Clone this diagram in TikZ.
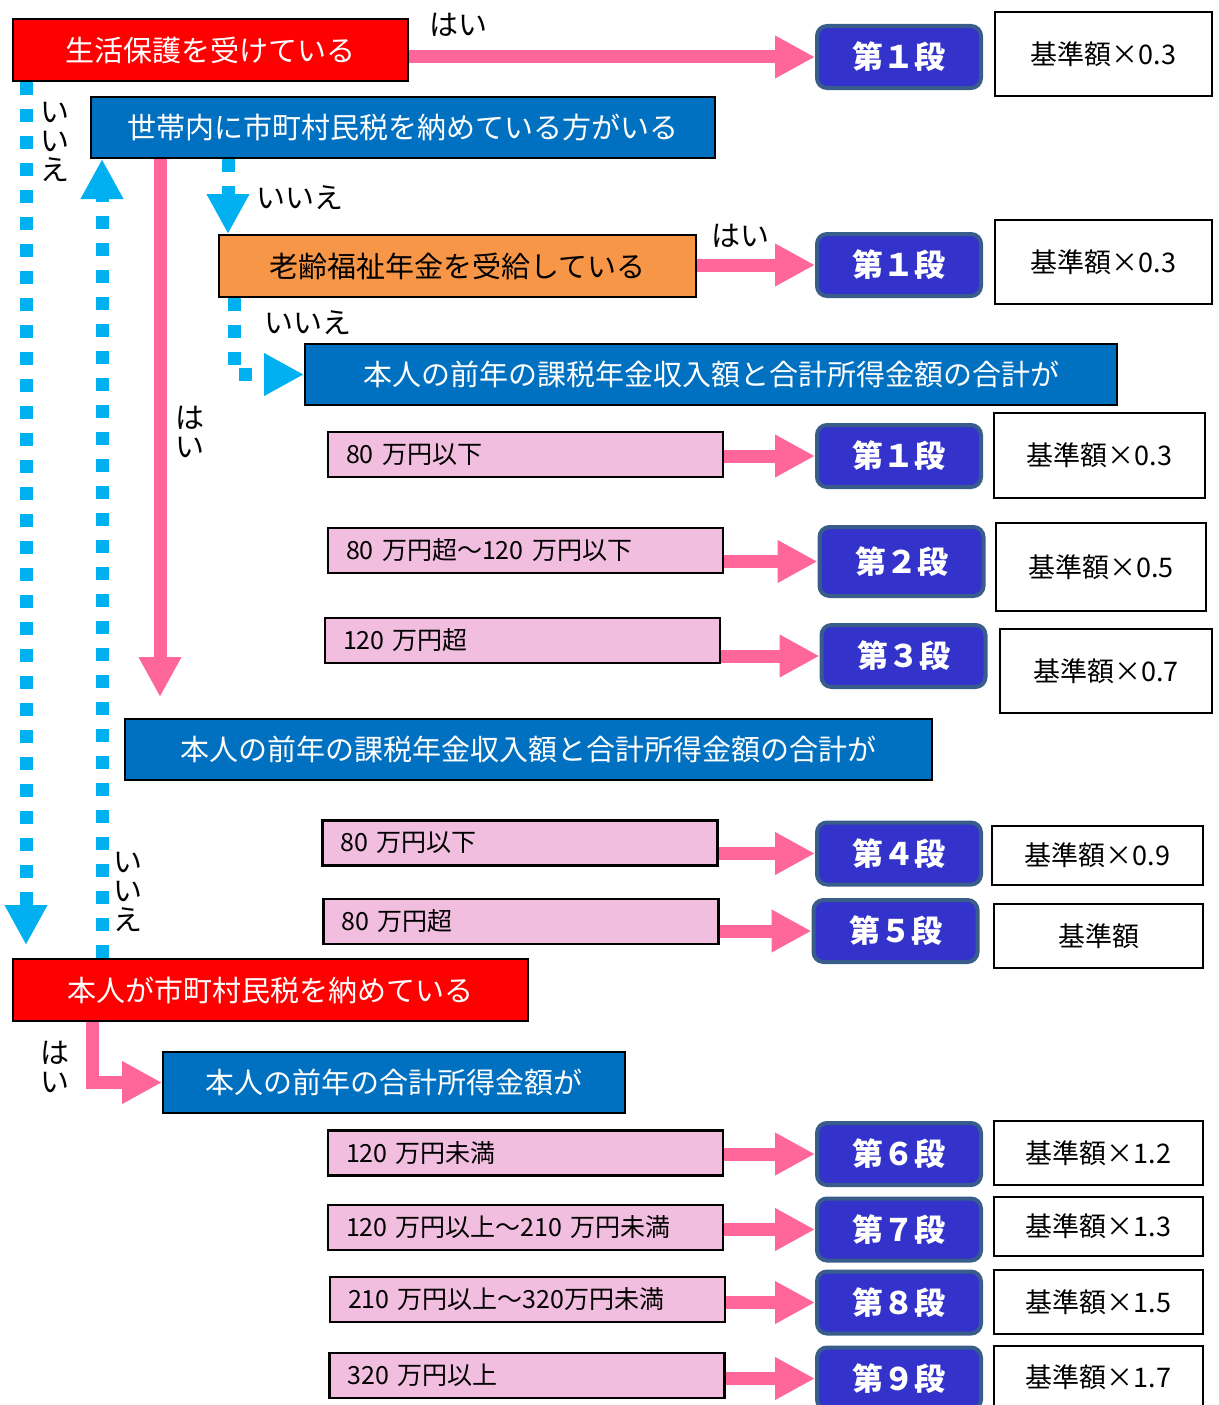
\documentclass[tikz,border=0pt]{standalone}
\usepackage{fontspec}
\setmainfont{Noto Sans CJK JP}
\usetikzlibrary{arrows.meta}
\definecolor{hdrblue}{HTML}{0070C0}
\definecolor{ageorange}{HTML}{F79646}
\definecolor{rangepink}{HTML}{F2BEE0}
\definecolor{stageblue}{HTML}{3333CC}
\definecolor{stageedge}{HTML}{385D8A}
\definecolor{arrowpink}{HTML}{FF6699}
\definecolor{dotcyan}{HTML}{00B0F0}
\begin{document}
\begin{tikzpicture}[x=1pt,y=-1pt,
  header/.style={draw=black,line width=2pt,text=white,inner sep=0pt,font=\fontsize{29}{29}\selectfont},
  redbox/.style={header,fill=red},
  bluebox/.style={header,fill=hdrblue},
  agebox/.style={header,fill=ageorange,text=black},
  rangebox/.style={draw=black,line width=2.5pt,fill=rangepink,minimum height=45pt,text width=359pt,inner xsep=18pt,inner ysep=0pt,align=left,font=\fontsize{25}{25}\selectfont},
  stagebox/.style={draw=stageedge,line width=4pt,fill=stageblue,rounded corners=10pt,text=white,minimum width=164pt,minimum height=62pt,inner sep=0pt,font=\fontsize{31}{31}\selectfont\bfseries},
  ratebox/.style={draw=black,line width=2pt,fill=white,inner sep=0pt,font=\fontsize{27}{27}\selectfont},
  pinkarrow/.style={arrowpink,line width=13pt,-{Triangle[length=40pt,width=40pt]}},
  bluearrow/.style={dotcyan,line width=13pt,dash pattern=on 13pt off 14pt,-{Triangle[length=40pt,width=40pt]}},
  answer/.style={font=\fontsize{29}{29}\selectfont,inner sep=0pt,align=center}
]
\useasboundingbox (0,0) rectangle (1218,1405);

%%%%%%%% questions
\node[redbox,minimum width=395pt,minimum height=62pt] (care) at (210.5,50) {生活保護を受けている};
\node[bluebox,minimum width=624pt,minimum height=61pt] (hh) at (403,127.5) {世帯内に市町村民税を納めている方がいる};
\node[agebox,minimum width=477pt,minimum height=62pt] (age) at (457.5,266) {老齢福祉年金を受給している};
\node[bluebox,minimum width=812pt,minimum height=61pt] (sum1) at (711,374.5) {本人の前年の課税年金収入額と合計所得金額の合計が};
\node[bluebox,minimum width=807pt,minimum height=61pt] (sum2) at (528.5,749.5) {本人の前年の課税年金収入額と合計所得金額の合計が};
\node[redbox,minimum width=515pt,minimum height=62pt] (own) at (270.5,990) {本人が市町村民税を納めている};
\node[bluebox,minimum width=462pt,minimum height=61pt] (inc) at (394,1082.5) {本人の前年の合計所得金額が};

%%%%%%%% ranges
\node[rangebox] (r1) at (525.5,454.5) {80 万円以下};
\node[rangebox] (r2) at (525.5,550.5) {80 万円超～120 万円以下};
\node[rangebox] (r3) at (522.5,640.5) {120 万円超};
\node[rangebox] (r4) at (520,843) {80 万円以下};
\node[rangebox] (r5) at (521,921.5) {80 万円超};
\node[rangebox] (r6) at (525.5,1153) {120 万円未満};
\node[rangebox] (r7) at (525.5,1227.5) {120 万円以上～210 万円未満};
\node[rangebox] (r8) at (527.5,1299.5) {210 万円以上～320万円未満};
\node[rangebox] (r9) at (527,1375.5) {320 万円以上};

%%%%%%%% stages
\node[stagebox] (st1a) at (899,57) {第１段};
\node[stagebox] (st1b) at (899,265) {第１段};
\node[stagebox] (st1c) at (899,456) {第１段};
\node[stagebox,minimum height=69pt] (st2) at (901.5,561.5) {第２段};
\node[stagebox] (st3) at (903.5,656) {第３段};
\node[stagebox] (st4) at (899,853.5) {第４段};
\node[stagebox] (st5) at (895.5,931) {第５段};
\node[stagebox] (st6) at (899,1154) {第６段};
\node[stagebox] (st7) at (899,1229.5) {第７段};
\node[stagebox] (st8) at (899,1302.5) {第８段};
\node[stagebox] (st9) at (899,1378.5) {第９段};

%%%%%%%% rates
\node[ratebox,minimum width=217pt,minimum height=84pt] (rate1a) at (1103.5,54) {基準額×0.3};
\node[ratebox,minimum width=217pt,minimum height=84pt] (rate1b) at (1103.5,262) {基準額×0.3};
\node[ratebox,minimum width=211pt,minimum height=85pt] (rate1c) at (1099.5,455.5) {基準額×0.3};
\node[ratebox,minimum width=210pt,minimum height=88pt] (rate2) at (1101,567) {基準額×0.5};
\node[ratebox,minimum width=212pt,minimum height=84pt] (rate3) at (1106,671) {基準額×0.7};
\node[ratebox,minimum width=211pt,minimum height=59pt] (rate4) at (1097.5,855.5) {基準額×0.9};
\node[ratebox,minimum width=209pt,minimum height=64pt] (rate5) at (1098.5,936) {基準額};
\node[ratebox,minimum width=209pt,minimum height=64pt] (rate6) at (1098.5,1153) {基準額×1.2};
\node[ratebox,minimum width=209pt,minimum height=59pt] (rate7) at (1098.5,1226.5) {基準額×1.3};
\node[ratebox,minimum width=209pt,minimum height=64pt] (rate8) at (1098.5,1302) {基準額×1.5};
\node[ratebox,minimum width=209pt,minimum height=64pt] (rate9) at (1098.5,1377.5) {基準額×1.7};

%%%%%%%% lanes
\coordinate (noA) at (26,945);
\coordinate (noBx) at (102,0);
\coordinate (noCx) at (228,0);
\coordinate (noDx) at (234,0);
\coordinate (yesA) at (160,697);
\coordinate (yesBx) at (92,0);

%%%%%%%% yes / no
\draw [pinkarrow] (care.east |- st1a) -- (st1a);
\draw [pinkarrow] (age.east |- st1b) -- (st1b);
\draw [pinkarrow] (hh.south -| yesA) -- (yesA);
\draw [pinkarrow] (own.south -| yesBx) |- (inc.west);
\draw [bluearrow] (care.south -| noA) -- (noA);
\draw [bluearrow] (own.north -| noBx) -- (hh.south -| noBx);
\draw [bluearrow] (hh.south -| noCx) -- (age.north -| noCx);
\draw [bluearrow] (age.south -| noDx) |- (sum1.west);

%%%%%%%% range to stage
\draw [pinkarrow] (r1.east |- st1c) -- (st1c);
\draw [pinkarrow] (r2.east |- st2) -- (st2);
\draw [pinkarrow] (r3.east |- st3) -- (st3);
\draw [pinkarrow] (r4.east |- st4) -- (st4);
\draw [pinkarrow] (r5.east |- st5) -- (st5);
\draw [pinkarrow] (r6.east |- st6) -- (st6);
\draw [pinkarrow] (r7.east |- st7) -- (st7);
\draw [pinkarrow] (r8.east |- st8) -- (st8);
\draw [pinkarrow] (r9.east |- st9) -- (st9);

%%%%%%%% labels
\node[answer] (l1) at (458,25) {はい};
\node[answer] (l2) at (55,142) {い\\い\\え};
\node[answer] (l3) at (300,198) {いいえ};
\node[answer] (l4) at (740,236) {はい};
\node[answer] (l5) at (308,323) {いいえ};
\node[answer] (l6) at (190,432) {は\\い};
\node[answer] (l7) at (128,892) {い\\い\\え};
\node[answer] (l8) at (55,1067) {は\\い};

%%%%%%%%%%%%%%%%%%%%%%%%%%%%%%%%%%%
\end{tikzpicture}
\end{document}
